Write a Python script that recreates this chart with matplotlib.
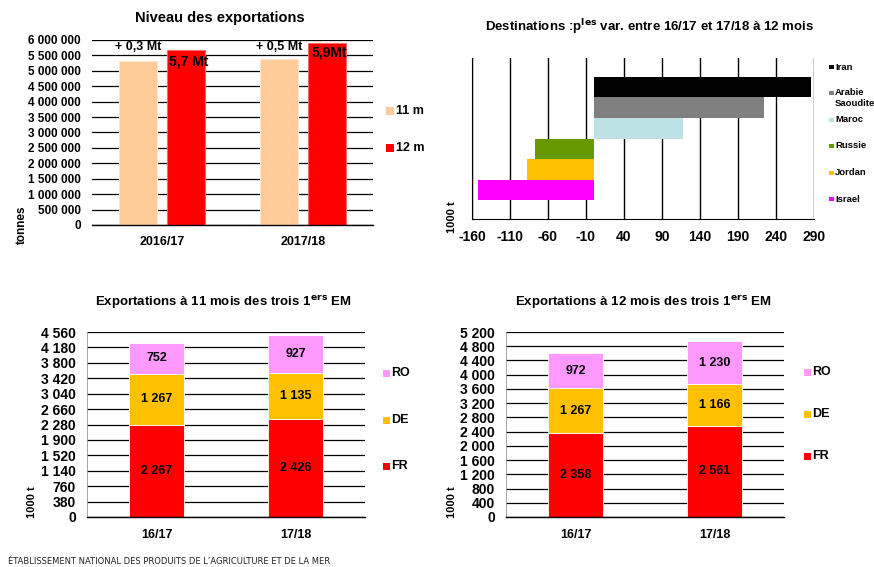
import matplotlib
matplotlib.use("Agg")
import matplotlib.pyplot as plt
from matplotlib.patches import Rectangle
import numpy as np

plt.rcParams['font.family'] = ['Liberation Sans', 'DejaVu Sans']
plt.rcParams['font.weight'] = 'bold'

# ---------------- data ----------------
seasons_long = ["2016/17", "2017/18"]
exports_11m = [5320000, 5380000]
exports_12m = [5680000, 5900000]
diff_labels = ["+ 0,3 Mt", "+ 0,5 Mt"]
total_labels = ["5,7 Mt", "5,9Mt"]

destinations = ["Iran", "Arabie\nSaoudite", "Maroc", "Russie", "Jordan", "Israel"]
dest_var = [286, 224, 117, -77, -87, -152]
dest_colors = ["#000000", "#808080", "#BCE2E5", "#669900", "#FFC000", "#FF00FF"]

seasons_short = ["16/17", "17/18"]
members = ["FR", "DE", "RO"]
m11 = {"FR": [2267, 2426], "DE": [1267, 1135], "RO": [752, 927]}
m12 = {"FR": [2358, 2561], "DE": [1267, 1166], "RO": [972, 1230]}
member_colors = {"FR": "#FF0000", "DE": "#FFC000", "RO": "#FF99FF"}

W, H = 874, 567
fig = plt.figure(figsize=(W / 100, H / 100), dpi=100)
fig.patch.set_facecolor("white")


def px_axes(l, t, r, b):
    return fig.add_axes([l / W, 1 - b / H, (r - l) / W, (b - t) / H])


def fmt(v):
    return f"{int(v):,}".replace(",", " ")


def legend_item(x, y, size, color, label, fs):
    fig.patches.append(Rectangle((x / W, 1 - (y + size / 2) / H), size / W, size / H,
                                 transform=fig.transFigure, facecolor=color,
                                 edgecolor="none", figure=fig))
    fig.text((x + size + 1.5) / W, 1 - y / H, label, fontsize=fs, fontweight="bold",
             va="center", ha="left")


def style_hgrid(ax):
    ax.yaxis.grid(True, color="#000000", linewidth=0.9)
    ax.set_axisbelow(True)
    for s in ["top", "right"]:
        ax.spines[s].set_visible(False)
    ax.spines["left"].set_color("#999999")
    ax.spines["left"].set_linewidth(0.6)
    ax.spines["bottom"].set_color("#000000")
    ax.spines["bottom"].set_linewidth(1.0)
    ax.tick_params(axis="both", length=0)


# ---------------- chart 1 ----------------
ax1 = px_axes(92, 40, 373, 225)
x = np.arange(len(seasons_long))
w = 0.27
off = 0.171
ax1.bar(x - off, exports_11m, w, color="#FFCC99", edgecolor="#FFE6CC", linewidth=0.8)
ax1.bar(x + off, exports_12m, w, color="#FF0000", edgecolor="#FF6666", linewidth=0.8)
ax1.set_xlim(-0.5, 1.5)
ax1.set_ylim(0, 6000000)
yt = np.arange(0, 6000001, 500000)
ax1.set_yticks(yt)
ax1.set_yticklabels([fmt(v) for v in yt], fontsize=8.5, fontweight="bold")
ax1.set_xticks(x)
ax1.set_xticklabels(seasons_long, fontsize=9, fontweight="bold")
style_hgrid(ax1)
ax1.tick_params(axis="x", pad=8)
ax1.tick_params(axis="y", pad=8)
ax1.spines["left"].set_visible(False)
label_y_diff = [5770000, 5770000]
label_y_total = [5290000, 5610000]
for i in range(2):
    ax1.text(x[i] - off, label_y_diff[i], diff_labels[i], ha="center", va="center",
             fontsize=9, fontweight="bold")
    ax1.text(x[i] + off + 0.02, label_y_total[i], total_labels[i],
             ha="center", va="center", fontsize=10, fontweight="bold")
fig.text(220 / W, 1 - 18 / H, "Niveau des exportations", fontsize=10.5, fontweight="bold",
         ha="center", va="center")
fig.text(22 / W, 1 - 225 / H, "tonnes", rotation=90, fontsize=8.5, fontweight="bold",
         ha="center", va="center")
legend_item(386, 111, 8, "#FFCC99", "11 m", 9)
legend_item(386, 148, 8, "#FF0000", "12 m", 9)

# ---------------- chart 2 ----------------
ax2 = px_axes(472, 58, 814, 219)
ypos = np.arange(len(destinations))[::-1]
ax2.barh(ypos, dest_var, height=1.0, color=dest_colors, edgecolor="none")
ax2.set_xlim(-160, 290)
ax2.set_ylim(-1.42, 6.42)
xt = np.arange(-160, 291, 50)
ax2.set_xticks(xt)
ax2.set_xticklabels([str(v) for v in xt], fontsize=10, fontweight="bold")
ax2.set_yticks([])
ax2.xaxis.grid(True, color="#000000", linewidth=1.0)
ax2.set_axisbelow(True)
for s in ["top", "right"]:
    ax2.spines[s].set_visible(False)
ax2.spines["left"].set_color("#000000")
ax2.spines["bottom"].set_color("#000000")
ax2.tick_params(axis="x", length=0, pad=8)
fig.text(650 / W, 1 - 27 / H, "Destinations :p$^{\\mathbf{les}}$ var. entre 16/17 et 17/18 à 12 mois",
         fontsize=9.5, fontweight="bold", ha="center", va="center")
fig.text(452 / W, 1 - 217 / H, "1000 t", rotation=90, fontsize=8, fontweight="bold",
         ha="center", va="center")
leg_y = [67, 93, 120, 146, 173, 199]
for lab, col, yy in zip(destinations, dest_colors, leg_y):
    if "\n" in lab:
        first, second = lab.split("\n")
        legend_item(829, yy, 4.5, col, first, 6.8)
        fig.text((829 + 6) / W, 1 - (yy + 11) / H, second, fontsize=6.8, fontweight="bold",
                 va="center", ha="left")
    else:
        legend_item(829, yy, 4.5, col, lab, 6.8)


# ---------------- charts 3 & 4 ----------------
def stacked(rect, data, ymax, step, title, title_x, leg_x, leg_ys, ylab_x):
    ax = px_axes(*rect)
    xs = np.arange(len(seasons_short))
    bottom = np.zeros(len(seasons_short))
    for m in members:
        vals = np.array(data[m])
        ax.bar(xs, vals, 0.4, bottom=bottom, color=member_colors[m],
               edgecolor="#FFFFFF", linewidth=0.6)
        for xi, v, b in zip(xs, vals, bottom):
            ax.text(xi, b + v / 2, fmt(v), ha="center", va="center", fontsize=9,
                    fontweight="bold")
        bottom = bottom + vals
    ax.set_xlim(-0.5, 1.5)
    ax.set_ylim(0, ymax)
    t = np.arange(0, ymax + 1, step)
    ax.set_yticks(t)
    ax.set_yticklabels([fmt(v) for v in t], fontsize=10, fontweight="bold")
    ax.set_xticks(xs)
    ax.set_xticklabels(seasons_short, fontsize=9, fontweight="bold")
    style_hgrid(ax)
    ax.tick_params(axis="x", pad=9)
    ax.tick_params(axis="y", pad=8)
    fig.text(title_x / W, 1 - 302 / H, title, fontsize=9.5, fontweight="bold",
             ha="center", va="center")
    fig.text(ylab_x / W, 1 - 502 / H, "1000 t", rotation=90, fontsize=8, fontweight="bold",
             ha="center", va="center")
    for m, yy in zip(["RO", "DE", "FR"], leg_ys):
        legend_item(leg_x, yy, 7, member_colors[m], m, 9)
    return ax


stacked((87, 332, 365, 517), m11, 4560, 380,
        "Exportations à 11 mois des trois 1$^{\\mathbf{ers}}$ EM", 223, 383, [373, 420, 466], 32)
stacked((506, 332, 784, 517), m12, 5200, 400,
        "Exportations à 12 mois des trois 1$^{\\mathbf{ers}}$ EM", 643, 804, [372, 414, 456], 452)

fig.text(8 / W, 1 - 562 / H, "ÉTABLISSEMENT NATIONAL DES PRODUITS DE L’AGRICULTURE ET DE LA MER",
         fontsize=6, fontweight="normal", ha="left", va="center",
         family=["Liberation Sans Narrow", "DejaVu Sans"], color="#222222")

fig.savefig("out.png", dpi=100, facecolor="white")
